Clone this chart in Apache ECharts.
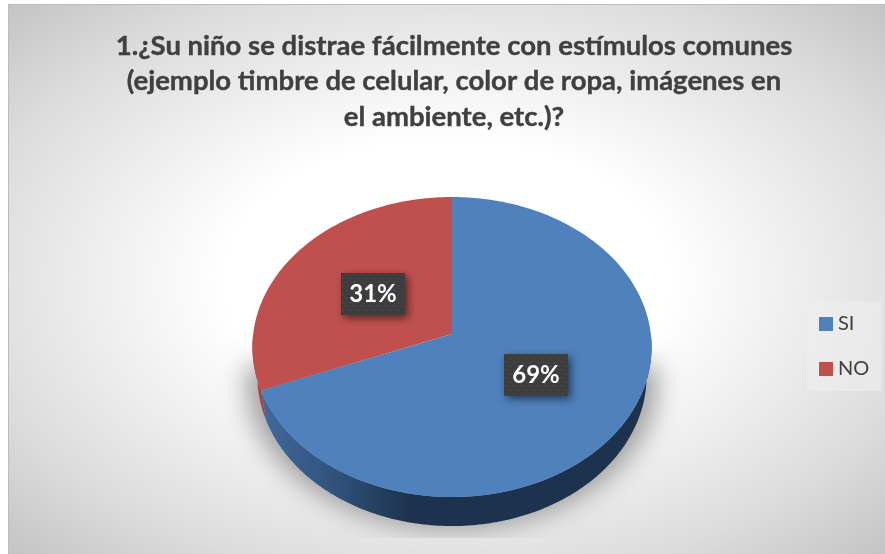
<!DOCTYPE html>
<html>
<head>
<meta charset="utf-8">
<style>
html,body{margin:0;padding:0;background:#fff;width:885px;height:554px;overflow:hidden}
#panel{position:absolute;left:8px;top:4px;width:877px;height:550px;box-sizing:border-box;
border-top:1px solid #bcbcbc;border-left:1px solid #bcbcbc;
background:radial-gradient(ellipse farthest-corner at 50% 50%,#fff 0%,#fff 36%,#ededed 58%,#dcdcdc 78%,#c4c4c4 100%)}
#main{position:absolute;left:0;top:0;width:885px;height:554px}
</style>
<script src="https://cdn.jsdelivr.net/npm/echarts@6/dist/echarts.min.js"></script>
</head>
<body>
<div id="panel"></div>
<div id="main"></div>
<script>
const titleLines = ['1.¿Su niño se distrae fácilmente con estímulos comunes',
  '(ejemplo timbre de celular, color de ropa, imágenes en',
  'el ambiente, etc.)?'];
const categories = ['SI', 'NO'];
const values = [69, 31];
const colors = ['#4f81bd', '#c0504d'];

// perspective disc geometry
const geo = {cx:452, cy:334, a:198.8, b:148.9, k:-0.0867, depth:29, lowScale:0.975};
function proj(deg, f){
  const t = deg*Math.PI/180, u = Math.sin(t)*f, v = -Math.cos(t)*f, d = 1+geo.k*v;
  return [geo.cx+geo.a*u/d, geo.cy+geo.b*v/d];
}
function low(p){ return [geo.cx+(p[0]-geo.cx)*geo.lowScale, p[1]+geo.depth]; }
function arc(a0,a1){
  const pts=[], n=Math.max(2,Math.ceil(Math.abs(a1-a0)));
  for(let i=0;i<=n;i++) pts.push(proj(a0+(a1-a0)*i/n,1));
  return pts;
}
const total = values.reduce((s,v)=>s+v,0);
function range(i){
  const before = values.slice(0,i).reduce((s,v)=>s+v,0);
  return [before/total*360,(before+values[i])/total*360];
}
const dots = document.createElement('canvas');
dots.width=8;dots.height=8;
(function(){const c=dots.getContext('2d');c.fillStyle='#3d3d3d';c.fillRect(0,0,8,8);
 c.fillStyle='#5c5c5c';c.fillRect(2,2,1,1);c.fillRect(6,6,1,1);})();

const sideFill = [
  {type:'linear',x:262,y:0,x2:410,y2:0,global:true,colorStops:[
    {offset:0,color:'#41699b'},{offset:0.55,color:'#2e4f78'},{offset:1,color:'#1d324e'}]},
  '#a8413e'
];
function renderSlice(params, api){
  const i = params.seriesIndex-1;
  const val = api.value(0);
  const r = range(i), children=[];
  const sideA = Math.max(r[0],90), sideB = Math.min(r[1],270);
  if(sideB>sideA){
    const top = arc(sideA,sideB), bot = top.map(low).reverse();
    children.push({type:'polygon',shape:{points:top.concat(bot)},
      style:{fill:sideFill[i]}});
  }
  children.push({type:'polygon',shape:{points:[[geo.cx,geo.cy]].concat(arc(r[0],r[1]))},
    style:{fill:colors[i]}});
  const mid=(r[0]+r[1])/2, c=proj(mid,0.5), w=64, h=42;
  const x=Math.round(c[0]-w/2)+(c[1]<geo.cy?1:0), y=Math.round(c[1]-h/2)+(c[1]<geo.cy?1:-2);
  children.push({type:'rect',shape:{x:x,y:y,width:w,height:h},
    style:{fill:{image:dots,repeat:'repeat'},shadowBlur:9,shadowColor:'rgba(0,0,0,0.55)',shadowOffsetX:3,shadowOffsetY:3}});
  children.push({type:'text',x:x+w/2,y:y+h/2,
    style:{text:Math.round(val)+'%',fill:'#fff',font:'bold 24px Lato',align:'center',verticalAlign:'middle'}});
  return {type:'group',children};
}
// soft drop shadow only: the casting shape sits off canvas, its blurred shadow lands behind the disc
function renderShadow(){
  const away = 2000;
  const rim = arc(90,270).map(low).map(p=>[geo.cx+(p[0]-geo.cx)*1.06+away,p[1]+4]);
  const pts=[[geo.cx+geo.a-2+away,geo.cy+30]].concat(rim,[[geo.cx-geo.a+2+away,geo.cy+30]]);
  return {type:'group',children:[{type:'polygon',shape:{points:pts},
    clipPath:{type:'rect',shape:{x:-100,y:0,width:5000,height:538}},
    style:{fill:'#888',shadowBlur:24,shadowOffsetX:-away,shadowColor:'rgba(130,130,130,0.72)'}}]};
}
const series=[{type:'custom',name:'sombra',coordinateSystem:'none',renderItem:renderShadow,data:[1],z:1,silent:true}];
categories.forEach((name,i)=>series.push({
  type:'custom',name,coordinateSystem:'none',renderItem:renderSlice,
  data:[values[i]],itemStyle:{color:colors[i]},z:3-i,silent:true
}));
const chart=echarts.init(document.getElementById('main'),null,{renderer:'canvas'});
chart.setOption({
  animation:false,
  backgroundColor:'transparent',
  title:{text:titleLines.join('\n'),left:449,top:23,textAlign:'center',
    textStyle:{fontFamily:'Lato',fontWeight:'bold',fontSize:27.5,lineHeight:35.5,color:'#404040',
      textBorderColor:'#404040',textBorderWidth:0.4}},
  legend:{data:categories,orient:'vertical',left:807,top:301,padding:[13,12,12,12],
    backgroundColor:'rgba(238,238,238,0.6)',itemWidth:14,itemHeight:14,itemGap:25,icon:'rect',
    textStyle:{fontFamily:'Lato',fontSize:20,color:'#404040'}},
  series
});
</script>
</body>
</html>
